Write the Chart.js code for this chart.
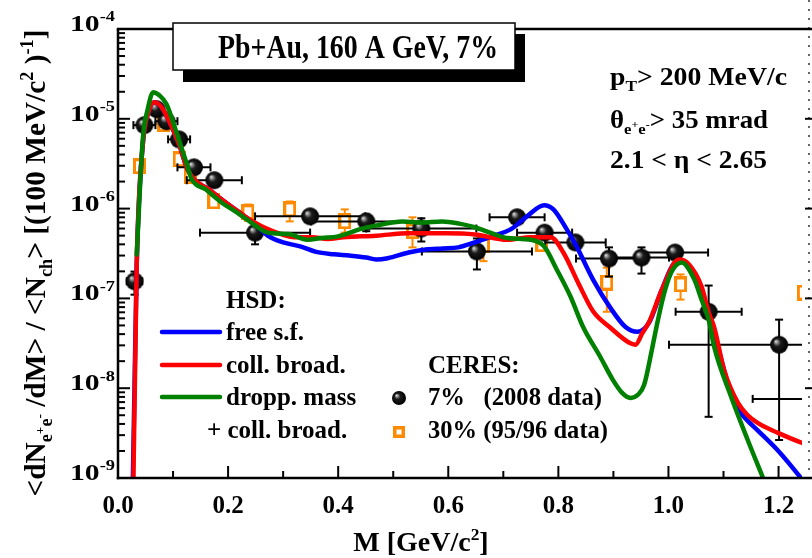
<!DOCTYPE html>
<html>
<head>
<meta charset="utf-8">
<script src="https://cdn.jsdelivr.net/npm/chart.js@4.4.1/dist/chart.umd.min.js"></script>
<style>
  html, body { margin: 0; padding: 0; background: #fff; }
  #chart { display: block; }
</style>
</head>
<body>
<canvas id="chart" width="812" height="558"></canvas>
<script>
// HSD curves (M in GeV/c^2, yield per 100 MeV/c^2)
var freeM   = [0.0245, 0.027, 0.034, 0.045, 0.056, 0.066, 0.079, 0.093, 0.111, 0.125, 0.138, 0.165, 0.188, 0.218, 0.245, 0.255, 0.272, 0.300, 0.331, 0.360, 0.392, 0.420, 0.451, 0.469, 0.490, 0.528, 0.559, 0.590, 0.618, 0.648, 0.679, 0.714, 0.743, 0.774, 0.791, 0.815, 0.833, 0.863, 0.893, 0.922, 0.944, 0.965, 0.988, 1.012, 1.024, 1.047, 1.073, 1.096, 1.119, 1.140, 1.162, 1.198, 1.239, 1.26];
var freeVal = [5e-10, 1e-9, 2.4e-7, 5.2e-6, 1.22e-5, 1.53e-5, 1.35e-5, 9.4e-6, 5.2e-6, 2.88e-6, 2.12e-6, 1.64e-6, 1.27e-6, 9.3e-7, 7.0e-7, 6.2e-7, 5.0e-7, 4.2e-7, 3.8e-7, 3.3e-7, 3.1e-7, 3.0e-7, 2.85e-7, 2.71e-7, 2.8e-7, 3.24e-7, 3.5e-7, 3.6e-7, 3.7e-7, 4.2e-7, 4.9e-7, 5.9e-7, 8.2e-7, 1.09e-6, 9.8e-7, 5.9e-7, 3.8e-7, 1.62e-7, 8.1e-8, 4.8e-8, 4.25e-8, 5.4e-8, 1.25e-7, 2.51e-7, 2.58e-7, 1.75e-7, 6.9e-8, 2.07e-8, 6.9e-9, 4.6e-9, 3.4e-9, 2.05e-9, 1.03e-9, 7e-10];

var collM   = [0.0255, 0.028, 0.034, 0.045, 0.056, 0.066, 0.079, 0.093, 0.111, 0.125, 0.138, 0.165, 0.188, 0.218, 0.245, 0.272, 0.300, 0.320, 0.353, 0.380, 0.410, 0.469, 0.528, 0.594, 0.648, 0.707, 0.750, 0.786, 0.809, 0.837, 0.863, 0.893, 0.929, 0.940, 0.953, 0.965, 0.988, 1.019, 1.037, 1.060, 1.073, 1.083, 1.101, 1.126, 1.144, 1.162, 1.198, 1.243, 1.26];
var collVal = [5e-10, 1e-9, 2.4e-7, 5.2e-6, 1.22e-5, 1.53e-5, 1.35e-5, 9.4e-6, 5.2e-6, 2.88e-6, 2.12e-6, 1.64e-6, 1.27e-6, 9.3e-7, 7.2e-7, 5.9e-7, 5.1e-7, 4.8e-7, 4.8e-7, 4.6e-7, 4.8e-7, 5.0e-7, 5.3e-7, 5.3e-7, 5.15e-7, 4.5e-7, 4.8e-7, 4.8e-7, 3.24e-7, 1.45e-7, 7.2e-8, 4.8e-8, 3.2e-8, 3.05e-8, 4.15e-8, 5.5e-8, 1.25e-7, 2.71e-7, 2.4e-7, 1.36e-7, 7.0e-8, 4.8e-8, 1.6e-8, 6.9e-9, 5.0e-9, 4.1e-9, 3.2e-9, 2.46e-9, 2.3e-9];

var droppM   = [0.034, 0.045, 0.054, 0.064, 0.075, 0.088, 0.106, 0.124, 0.134, 0.159, 0.188, 0.213, 0.242, 0.272, 0.310, 0.344, 0.370, 0.400, 0.440, 0.470, 0.517, 0.550, 0.589, 0.620, 0.648, 0.680, 0.707, 0.750, 0.774, 0.797, 0.822, 0.845, 0.876, 0.899, 0.915, 0.931, 0.945, 0.956, 0.970, 0.981, 0.994, 1.006, 1.024, 1.047, 1.060, 1.073, 1.083, 1.114, 1.144, 1.171, 1.182];
var droppVal = [3.08e-7, 5.9e-6, 1.28e-5, 1.98e-5, 1.83e-5, 1.46e-5, 7.1e-6, 3.28e-6, 2.12e-6, 1.64e-6, 1.17e-6, 9.3e-7, 7.0e-7, 5.4e-7, 5.2e-7, 4.5e-7, 4.7e-7, 4.9e-7, 5.9e-7, 6.5e-7, 7.2e-7, 7.0e-7, 7.2e-7, 6.8e-7, 6.2e-7, 5.3e-7, 4.7e-7, 4.5e-7, 3.8e-7, 2.1e-7, 1.05e-7, 4.8e-8, 2.24e-8, 1.24e-8, 9e-9, 7.8e-9, 8.5e-9, 1.1e-8, 2.7e-8, 5.8e-8, 1.25e-7, 2.0e-7, 2.51e-7, 1.62e-7, 9.7e-8, 5.8e-8, 2.9e-8, 8.0e-9, 2.65e-9, 1.03e-9, 7e-10];

// CERES 7% (2008 data)
var ceresM    = [0.030, 0.048, 0.070, 0.088, 0.111, 0.138, 0.175, 0.249, 0.349, 0.451, 0.551, 0.652, 0.725, 0.775, 0.831, 0.892, 0.951, 1.012, 1.073, 1.201, 1.353];
var ceresVal  = [1.55e-7, 8.5e-6, 1.28e-5, 9.4e-6, 5.9e-6, 2.88e-6, 2.07e-6, 5.4e-7, 8.2e-7, 7.2e-7, 6.0e-7, 3.33e-7, 8.0e-7, 5.4e-7, 4.2e-7, 2.78e-7, 2.85e-7, 3.24e-7, 7.1e-8, 3.05e-8, 7.6e-9];
var ceresMErr = [0.014, 0.02, 0.01, 0.02, 0.02, 0.03, 0.05, 0.1, 0.1, 0.1, 0.1, 0.1, 0.05, 0.05, 0.055, 0.06, 0.05, 0.06, 0.06, 0.2, 0.2];
var ceresLo   = [1.1e-7, 7.4e-6, 1.12e-5, 8.2e-6, 5.1e-6, 2.5e-6, 1.8e-6, 4.0e-7, 7.1e-7, 5.6e-7, 4.3e-7, 2.1e-7, 6.9e-7, 4.6e-7, 3.6e-7, 1.75e-7, 1.89e-7, 2.8e-7, 4.8e-9, 2.65e-9, 6.6e-9];
var ceresHi   = [1.99e-7, 9.8e-6, 1.46e-5, 1.07e-5, 6.8e-6, 3.3e-6, 2.4e-6, 6.5e-7, 9.4e-7, 8.6e-7, 7.8e-7, 4.65e-7, 9.3e-7, 6.3e-7, 4.9e-7, 3.7e-7, 3.7e-7, 3.7e-7, 1.39e-7, 5.8e-8, 8.7e-9];

// CERES 30% (95/96 data)
var oldM   = [0.039, 0.083, 0.111, 0.131, 0.174, 0.236, 0.312, 0.412, 0.535, 0.664, 0.770, 0.888, 1.022, 1.245];
var oldVal = [2.96e-6, 8.7e-6, 3.54e-6, 2.29e-6, 1.2e-6, 9.1e-7, 9.8e-7, 7.2e-7, 5.6e-7, 3.9e-7, 4.0e-7, 1.5e-7, 1.43e-7, 1.16e-7];
var oldLo  = [null, null, null, null, null, 7.3e-7, 7.2e-7, 5.4e-7, 3.7e-7, 2.6e-7, null, 7.1e-8, 9.7e-8, null];
var oldHi  = [null, null, null, null, null, 1.11e-6, 1.2e-6, 9.8e-7, 8.0e-7, 4.8e-7, null, 2.2e-7, 1.85e-7, null];

var xTicks = [0.0, 0.2, 0.4, 0.6, 0.8, 1.0, 1.2];
var yDecades = [-4, -5, -6, -7, -8, -9];

var SERIF = '"Liberation Serif", "Times New Roman", serif';
function font(size) { return 'bold ' + size + 'px ' + SERIF; }

function pts(xs, ys) {
  return xs.map(function (x, i) { return { x: x, y: ys[i] }; });
}

function makeBall(r) {
  var c = document.createElement('canvas');
  c.width = c.height = 2 * r + 2;
  var g = c.getContext('2d');
  var m = r + 1;
  var grad = g.createRadialGradient(m - r * 0.38, m - r * 0.4, 0, m, m, r);
  grad.addColorStop(0, '#f4f4f4');
  grad.addColorStop(0.16, '#9a9a9a');
  grad.addColorStop(0.42, '#1c1c1c');
  grad.addColorStop(1, '#000');
  g.fillStyle = grad;
  g.beginPath();
  g.arc(m, m, r, 0, Math.PI * 2);
  g.fill();
  return c;
}

function makeBox(w, h, lw) {
  var c = document.createElement('canvas');
  c.width = w; c.height = h;
  var g = c.getContext('2d');
  g.fillStyle = '#fff';
  g.fillRect(lw / 2, lw / 2, w - lw, h - lw);
  g.strokeStyle = ORANGE;
  g.lineWidth = lw;
  g.strokeRect(lw / 2, lw / 2, w - lw, h - lw);
  return c;
}

var ORANGE = '#ff8a00';
var ball = makeBall(9);
var ballSmall = makeBall(7);
var square = makeBox(13, 16, 3);
var squareSmall = makeBox(12, 12, 3.5);

// rich text: [text, kind] with kind '', 'sub', 'sup', 'subsup'
function partStyle(kind, size) {
  if (kind === 'sup') return { size: size * 0.62, dy: -size * 0.4 };
  if (kind === 'sub') return { size: size * 0.62, dy: size * 0.22 };
  if (kind === 'subsup') return { size: size * 0.45, dy: -size * 0.02 };
  return { size: size, dy: 0 };
}
function richWidth(ctx, parts, size) {
  var w = 0;
  parts.forEach(function (p) {
    ctx.font = font(partStyle(p[1], size).size);
    w += ctx.measureText(p[0]).width;
  });
  return w;
}
function drawRich(ctx, parts, x, y, size, align, width) {
  var w = richWidth(ctx, parts, size);
  var k = width ? width / w : 1;
  ctx.save();
  ctx.translate(x, y);
  ctx.scale(k, 1);
  ctx.textAlign = 'left';
  ctx.textBaseline = 'alphabetic';
  ctx.fillStyle = '#000';
  var cx = align === 'center' ? -w / 2 : (align === 'right' ? -w : 0);
  parts.forEach(function (p) {
    var st = partStyle(p[1], size);
    ctx.font = font(st.size);
    ctx.fillText(p[0], cx, st.dy);
    cx += ctx.measureText(p[0]).width;
  });
  ctx.restore();
}

function seg(ctx, x1, y1, x2, y2) {
  ctx.beginPath();
  ctx.moveTo(x1, y1);
  ctx.lineTo(x2, y2);
  ctx.stroke();
}

var errorBars = {
  id: 'errorBars',
  beforeDatasetDraw: function (chart, args) {
    var ds = chart.data.datasets[args.index];
    if (!ds.errors) return;
    var ctx = chart.ctx, a = chart.chartArea;
    var xs = chart.scales.x, ys = chart.scales.y;
    ctx.save();
    ctx.beginPath();
    ctx.rect(a.left, a.top, a.right - a.left, a.bottom - a.top);
    ctx.clip();
    ctx.strokeStyle = ds.errorColor;
    ctx.lineWidth = 2;
    ds.errors.forEach(function (er, i) {
      var p = ds.data[i];
      var px = xs.getPixelForValue(p.x), py = ys.getPixelForValue(p.y);
      if (er.dx) {
        var x1 = xs.getPixelForValue(p.x - er.dx), x2 = xs.getPixelForValue(p.x + er.dx);
        seg(ctx, x1, py, x2, py);
        seg(ctx, x1, py - 4, x1, py + 4);
        seg(ctx, x2, py - 4, x2, py + 4);
      }
      if (er.lo != null) {
        var y1 = ys.getPixelForValue(er.lo), y2 = ys.getPixelForValue(er.hi);
        seg(ctx, px, y1, px, y2);
        seg(ctx, px - 4, y1, px + 4, y1);
        seg(ctx, px - 4, y2, px + 4, y2);
      }
    });
    ctx.restore();
  }
};

var frame = {
  id: 'frame',
  afterDatasetsDraw: function (chart) {
    var ctx = chart.ctx, a = chart.chartArea;
    var xs = chart.scales.x, ys = chart.scales.y;
    var W = chart.width;
    ctx.save();
    ctx.strokeStyle = '#000';
    ctx.lineCap = 'butt';

    // neighbour panel edge on the right
    ctx.lineWidth = 1.2;
    ctx.setLineDash([2, 7]);
    seg(ctx, 809, 0, 809, a.bottom);
    ctx.setLineDash([]);
    ctx.lineWidth = 2;
    yDecades.forEach(function (e) {
      var py = ys.getPixelForValue(Math.pow(10, e));
      seg(ctx, 805, py, W, py);
    });

    // ticks
    ctx.lineWidth = 2;
    yDecades.forEach(function (e) {
      for (var m = 1; m <= 9; m++) {
        var v = m * Math.pow(10, e);
        if (v > 1.0001e-4) break;
        var py = ys.getPixelForValue(v);
        seg(ctx, a.left, py, a.left + (m === 1 ? 12 : 7), py);
      }
    });
    for (var i = 1; i <= 12; i++) {
      var px = xs.getPixelForValue(i / 10);
      seg(ctx, px, a.bottom, px, a.bottom - (i % 2 === 0 ? 12 : 7));
    }

    // axis lines
    ctx.lineWidth = 2.5;
    seg(ctx, a.left, a.top, a.left, a.bottom + 1.25);
    seg(ctx, a.left - 1.25, a.bottom, W, a.bottom);
    seg(ctx, a.left - 1.25, a.top, W, a.top);

    // tick labels
    xTicks.forEach(function (t) {
      drawRich(ctx, [[t.toFixed(1), '']], xs.getPixelForValue(t), 513, 25, 'center');
    });
    yDecades.forEach(function (e) {
      var py = ys.getPixelForValue(Math.pow(10, e));
      drawRich(ctx, [['10', ''], [String(e), 'sup']], 70, py + 2, 24, 'left', 45);
    });

    // axis titles
    drawRich(ctx, [['M [GeV/c', ''], ['2', 'sup'], [']', '']], 421, 551, 28, 'center');
    ctx.save();
    ctx.translate(45, 263);
    ctx.rotate(-Math.PI / 2);
    drawRich(ctx, [['<dN', ''], ['e', 'sub'], ['+', 'subsup'], ['e', 'sub'], ['-', 'subsup'],
      [' /dM> / <N', ''], ['ch', 'sub'], ['> [(100 MeV/c', ''], ['2', 'sup'], [' )', ''], ['-1', 'sup'], [']', '']],
      0, 0, 30, 'center', 467);
    ctx.restore();

    // title box with shadow
    ctx.fillStyle = '#000';
    ctx.fillRect(183, 34, 342, 48);
    ctx.fillStyle = '#fff';
    ctx.fillRect(173, 23, 342, 47);
    ctx.lineWidth = 1.5;
    ctx.strokeRect(173, 23, 342, 47);
    drawRich(ctx, [['Pb+Au, 160 A GeV, 7%', '']], 218, 58, 33, 'left', 280);

    // cuts
    drawRich(ctx, [['p', ''], ['T', 'sub'], ['> 200 MeV/c', '']], 610, 85, 25, 'left', 177);
    drawRich(ctx, [['\u03b8', ''], ['e', 'sub'], ['+', 'subsup'], ['e', 'sub'], ['-', 'subsup'], ['> 35 mrad', '']], 610, 128, 25, 'left', 158);
    drawRich(ctx, [['2.1 < \u03b7 < 2.65', '']], 610, 168, 25, 'left', 157);

    // legend
    var ds = chart.data.datasets;
    drawRich(ctx, [['HSD:', '']], 226, 308, 25, 'left');
    var rows = [[2, 332], [1, 365], [0, 397]];
    ctx.lineCap = 'round';
    rows.forEach(function (r) {
      var d = ds[r[0]];
      ctx.strokeStyle = d.borderColor;
      ctx.lineWidth = 4.5;
      seg(ctx, 162, r[1], 220, r[1]);
      var lines = d.label.split('\n');
      drawRich(ctx, [[lines[0], '']], 226, r[1] + 8, 25, 'left');
      if (lines[1]) drawRich(ctx, [[lines[1], '']], 207, r[1] + 41, 25, 'left');
    });
    drawRich(ctx, [['CERES:', '']], 428, 373, 25, 'left');
    ctx.drawImage(ballSmall, 399 - ballSmall.width / 2, 398 - ballSmall.height / 2);
    drawRich(ctx, [[ds[3].label, '']], 428, 405, 25, 'left', 174);
    ctx.drawImage(squareSmall, 399 - squareSmall.width / 2, 432 - squareSmall.height / 2);
    drawRich(ctx, [[ds[4].label, '']], 428, 438, 25, 'left', 180);
    ctx.restore();
  }
};

var ctx = document.getElementById('chart').getContext('2d');
var chart = new Chart(ctx, {
  type: 'scatter',
  data: {
    datasets: [{
      label: 'dropp. mass\n+ coll. broad.',
      data: pts(droppM, droppVal),
      showLine: true,
      borderColor: '#008000',
      borderWidth: 4.5,
      borderCapStyle: 'round',
      borderJoinStyle: 'round',
      cubicInterpolationMode: 'monotone',
      pointRadius: 0,
      order: 1
    }, {
      label: 'coll. broad.',
      data: pts(collM, collVal),
      showLine: true,
      borderColor: '#ff0000',
      borderWidth: 4.5,
      borderCapStyle: 'round',
      borderJoinStyle: 'round',
      cubicInterpolationMode: 'monotone',
      pointRadius: 0,
      order: 2
    }, {
      label: 'free s.f.',
      data: pts(freeM, freeVal),
      showLine: true,
      borderColor: '#0000ff',
      borderWidth: 4.5,
      borderCapStyle: 'round',
      borderJoinStyle: 'round',
      cubicInterpolationMode: 'monotone',
      pointRadius: 0,
      order: 3
    }, {
      label: '7%   (2008 data)',
      data: pts(ceresM, ceresVal),
      errors: ceresM.map(function (m, i) { return { dx: ceresMErr[i], lo: ceresLo[i], hi: ceresHi[i] }; }),
      errorColor: '#000',
      pointStyle: ball,
      pointRadius: 9,
      order: 4
    }, {
      label: '30% (95/96 data)',
      data: pts(oldM, oldVal),
      errors: oldM.map(function (m, i) { return { dx: 0, lo: oldLo[i], hi: oldHi[i] }; }),
      errorColor: ORANGE,
      pointStyle: square,
      pointRadius: 8,
      order: 5
    }]
  },
  options: {
    responsive: false,
    devicePixelRatio: 1,
    animation: false,
    events: [],
    layout: { padding: { top: 29, right: 0, left: 0, bottom: 0 } },
    plugins: { legend: { display: false }, tooltip: { enabled: false } },
    scales: {
      x: {
        type: 'linear',
        min: 0,
        max: 1.2426,
        grid: { display: false },
        border: { display: false },
        ticks: { display: false },
        afterFit: function (s) { s.height = 80; }
      },
      y: {
        type: 'logarithmic',
        min: 1e-9,
        max: 1e-4,
        grid: { display: false },
        border: { display: false },
        ticks: { display: false },
        afterFit: function (s) { s.width = 118; }
      }
    }
  },
  plugins: [errorBars, frame]
});
</script>
</body>
</html>
